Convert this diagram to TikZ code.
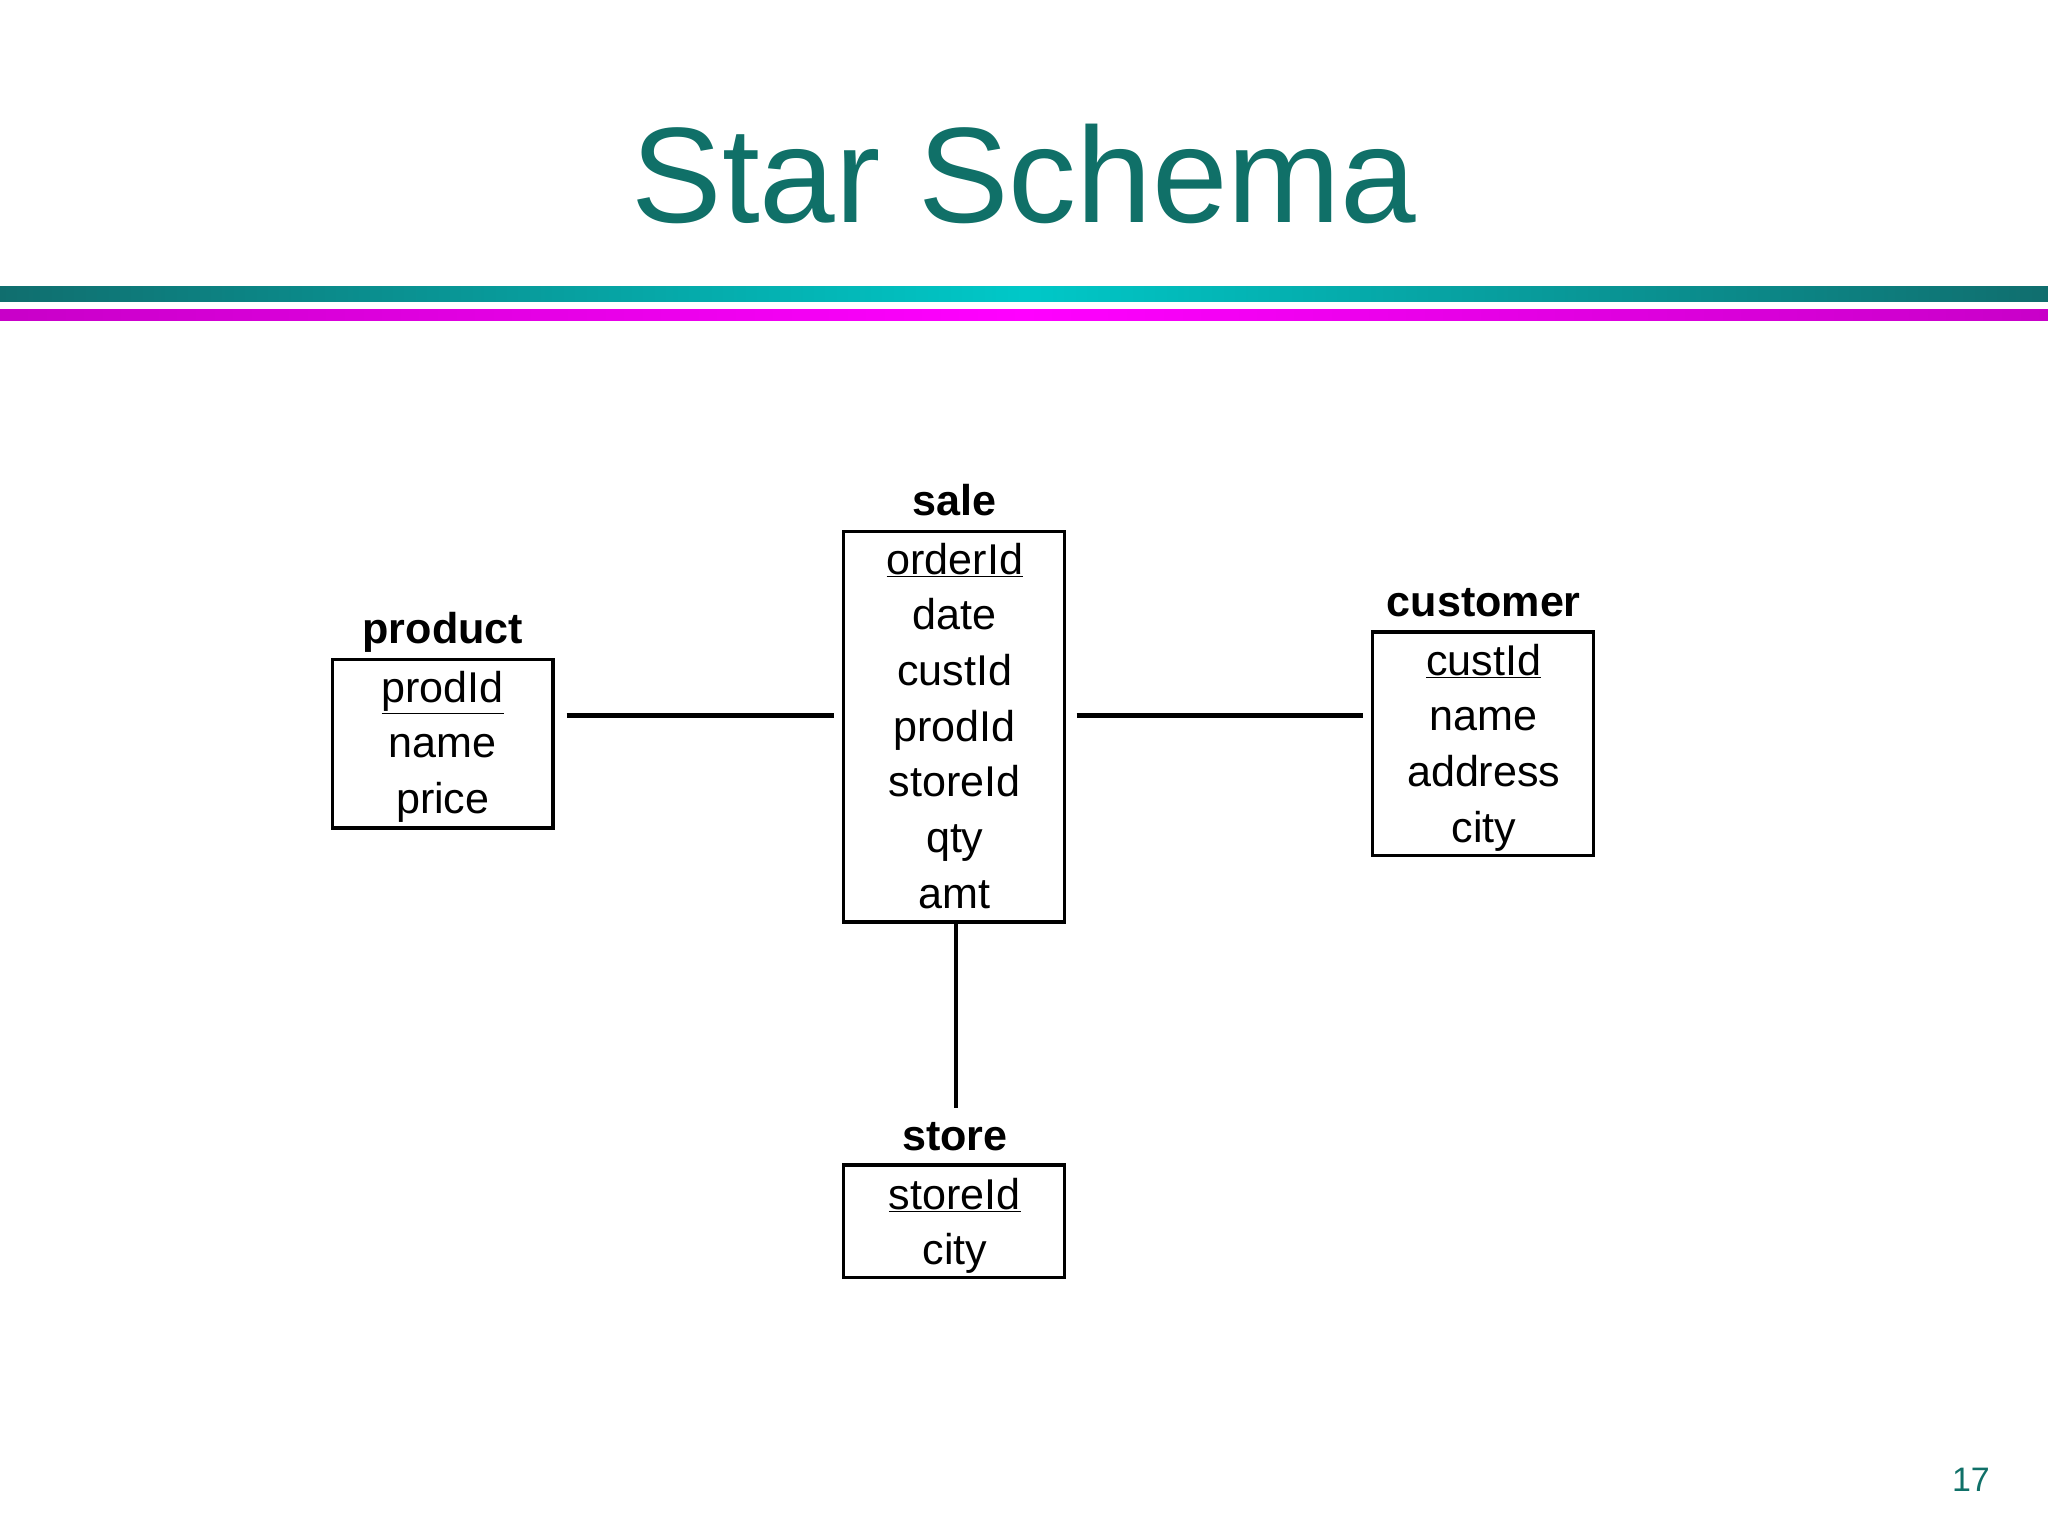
\documentclass[tikz,border=0pt]{standalone}
\usepackage{fontspec}
\setmainfont{Liberation Sans}
\usetikzlibrary{positioning}
\definecolor{titleteal}{RGB}{16,112,104}
\definecolor{barteal}{RGB}{16,110,110}
\definecolor{barcyan}{RGB}{0,200,200}
\definecolor{barmag}{RGB}{200,0,200}
\definecolor{barpink}{RGB}{255,0,255}

\tikzset{
  table/.style={draw, line width=2.6pt, minimum width=169pt, inner sep=0pt},
  tname/.style={font=\fontsize{33}{33}\selectfont\bfseries, anchor=base},
  field/.style={font=\fontsize{33}{33}\selectfont, anchor=base},
  key/.style={field, inner sep=0pt, outer sep=0pt},
  link/.style={line width=3.5pt},
}
\newcommand{\keyfield}[1]{\underline{#1}}

\begin{document}
\begin{tikzpicture}[x=1pt,y=-1pt]
\useasboundingbox[fill=white] (0,0) rectangle (1568,1176);

% Title and bars
\node[font=\fontsize{104}{104}\selectfont, text=titleteal, anchor=base] (title) at (784,170) {Star Schema};
\shade[left color=barteal, right color=barcyan] (0,219) rectangle (784,231);
\shade[left color=barcyan, right color=barteal] (784,219) rectangle (1568,231);
\shade[left color=barmag, right color=barpink] (0,237) rectangle (784,245);
\shade[left color=barpink, right color=barmag] (784,237) rectangle (1568,245);

% Tables
\node[table, minimum height=129pt] (prod) at (339,569.5) {};
\node[table, minimum height=299pt] (sale) at (730.5,556.5) {};
\node[table, minimum height=171pt] (cust) at (1135.5,569.5) {};
\node[table, minimum height=86pt]  (store) at (730.5,935) {};

\node[tname] (prodT) at (339,493) {product};
\node[tname] (saleT) at (731,395) {sale};
\node[tname] (custT) at (1136,472) {customer};
\node[tname] (storeT) at (731,881) {store};

% Fields
\node[field] (p1) at (339,538) {\keyfield{prodId}};
\node[field] (p2) at (339,580) {name};
\node[field] (p3) at (339,623) {price};

\foreach \f [count=\i] in {\keyfield{orderId},date,custId,prodId,storeId,qty,amt}
  \node[field] (s\i) at (731,{397+42.6*\i}) {\f};

\node[field] (c1) at (1136,517) {\keyfield{custId}};
\node[field] (c2) at (1136,559) {name};
\node[field] (c3) at (1136,602) {address};
\node[field] (c4) at (1136,645) {city};

\node[field] (t1) at (731,926) {\keyfield{storeId}};
\node[field] (t2) at (731,968) {city};

% Connectors
\coordinate (row) at (0,548);
\coordinate (storeEnd) at (732,848);
\draw[link, shorten <=9pt, shorten >=6pt] (prod.east |- row) -- (sale.west |- row);
\draw[link, shorten <=8pt, shorten >=6pt] (sale.east |- row) -- (cust.west |- row);
\draw[link] (storeEnd |- sale.south) -- (storeEnd);

\node[font=\fontsize{26}{26}\selectfont, text=titleteal, anchor=base] (page) at (1509,1142) {17};
\end{tikzpicture}
\end{document}
